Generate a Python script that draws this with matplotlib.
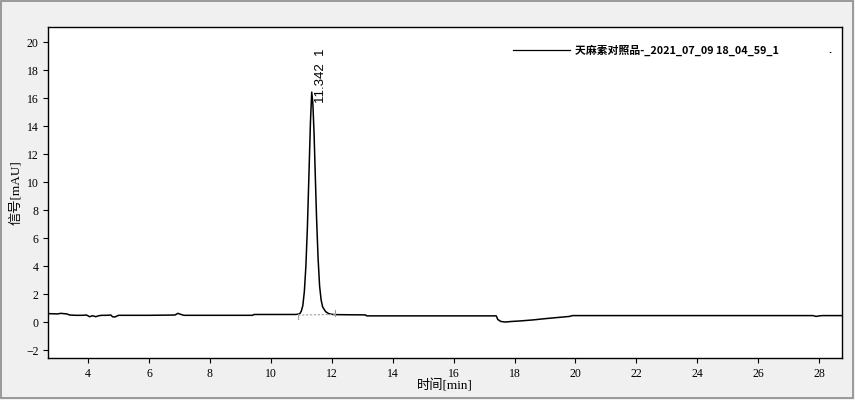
import matplotlib
matplotlib.use("Agg")
import matplotlib.pyplot as plt
from matplotlib.patches import Rectangle

# chromatogram points (time [min], signal [mAU])
time_min = [2.70, 3.00, 3.10, 3.30, 3.40, 3.60, 3.80, 3.95, 4.05, 4.15, 4.25, 4.35, 4.45,
            4.60, 4.75, 4.80, 4.88, 5.00, 6.00, 6.85, 6.95, 7.05, 7.15, 8.00, 9.40,
            9.45, 10.00, 10.80, 10.90, 10.95, 11.00, 11.05, 11.10, 11.15, 11.20, 11.25,
            11.30, 11.342, 11.38, 11.42, 11.46, 11.50, 11.55, 11.60, 11.65, 11.70,
            11.80, 11.90, 12.00, 12.10, 12.50, 13.10, 13.15, 14.00, 16.00, 17.40,
            17.45, 17.55, 17.70, 17.90, 18.20, 18.60, 19.00, 19.40, 19.80, 19.90,
            22.00, 25.00, 27.80, 27.90, 28.00, 28.10, 28.75]
signal_mau = [0.62, 0.60, 0.64, 0.60, 0.52, 0.50, 0.50, 0.52, 0.40, 0.47, 0.40, 0.47, 0.50,
              0.50, 0.52, 0.40, 0.38, 0.50, 0.50, 0.52, 0.64, 0.56, 0.50, 0.50, 0.50,
              0.56, 0.56, 0.56, 0.58, 0.62, 0.80, 1.20, 2.20, 4.00, 6.80, 10.50,
              14.30, 16.45, 15.60, 13.40, 10.40, 7.50, 4.60, 2.60, 1.60, 1.10,
              0.76, 0.62, 0.57, 0.55, 0.54, 0.53, 0.46, 0.46, 0.46, 0.46,
              0.20, 0.06, 0.02, 0.06, 0.10, 0.17, 0.26, 0.34, 0.42, 0.48,
              0.48, 0.48, 0.48, 0.42, 0.46, 0.48, 0.48]

# integration baseline of the peak
base_t = [10.90, 12.10]
base_y = [0.52, 0.56]

peak_rt = 11.342
peak_height = 16.45
peak_label = "11.342  1"
legend_label = "天麻素对照品-_2021_07_09 18_04_59_1"
x_ticks = [4, 6, 8, 10, 12, 14, 16, 18, 20, 22, 24, 26, 28]
y_ticks = [-2, 0, 2, 4, 6, 8, 10, 12, 14, 16, 18, 20]

plt.rcParams['font.family'] = ['Liberation Serif', 'Noto Sans CJK SC', 'DejaVu Sans']

fig = plt.figure(figsize=(8.55, 4.0), dpi=100, facecolor="#f0f0f0")
fig.patches.append(Rectangle((0.001, 0.004), 0.997, 0.993, transform=fig.transFigure,
                             fill=False, edgecolor="#8a8a8a", linewidth=1.2))
ax = fig.add_axes([0.0567, 0.105, 0.9281, 0.8275])
ax.set_facecolor("white")

ax.plot(time_min, signal_mau, color="black", linewidth=1.1)
ax.plot(base_t, base_y, color="#a0a0a0", linewidth=0.8, linestyle=(0, (2, 1.5)))
ax.plot([base_t[0], base_t[0]], [base_y[0] - 0.25, base_y[0] + 0.1], color="#a0a0a0", lw=0.8)
ax.plot([base_t[1], base_t[1]], [base_y[1] - 0.1, base_y[1] + 0.35], color="#a0a0a0", lw=0.8)

ax.set_xlim(2.7, 28.75)
ax.set_ylim(-2.55, 21.1)
ax.set_xticks(x_ticks)
ax.set_yticks(y_ticks)
ax.tick_params(direction="out", length=3.5, width=0.8, labelsize=8.5, colors="black")
for s in ax.spines.values():
    s.set_linewidth(1.0)
    s.set_color("black")

ax.text(peak_rt + 0.32, peak_height - 0.75, peak_label, rotation=90, fontsize=9.5,
        family=['Liberation Sans', 'DejaVu Sans'], ha="center", va="bottom")

ax.set_xlabel("时间[min]", fontsize=9.5, labelpad=0)
ax.set_ylabel("信号[mAU]", fontsize=9.5, labelpad=3)

# legend entry
ax.plot([0.585, 0.657], [0.930, 0.930], transform=ax.transAxes, color="black", lw=0.9)
ax.text(0.663, 0.930, legend_label, transform=ax.transAxes, fontsize=7.8, fontweight="bold",
        family=['Noto Sans CJK SC', 'Liberation Sans'], ha="left", va="center")
ax.text(0.983, 0.930, ".", transform=ax.transAxes, fontsize=8, fontweight="bold",
        family=['Liberation Sans'], ha="left", va="center")

fig.savefig("out.png", dpi=100, facecolor=fig.get_facecolor())
